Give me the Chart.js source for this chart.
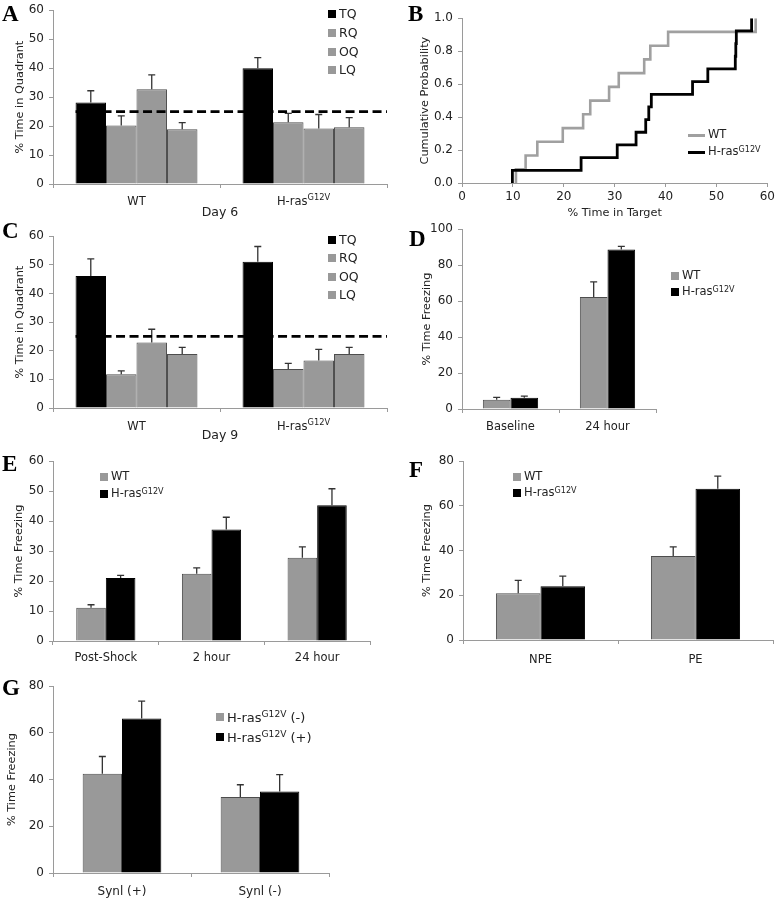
<!DOCTYPE html>
<html>
<head>
<meta charset="utf-8">
<script src="https://cdn.jsdelivr.net/npm/chart.js@4.4.1/dist/chart.umd.min.js"></script>
<style>
body{margin:0;background:#fff;width:778px;height:900px;position:relative;overflow:hidden;font-family:"DejaVu Sans",sans-serif;color:#222}
canvas{position:absolute}
.letter{position:absolute;font-family:"Liberation Serif",serif;font-weight:bold;font-size:23px;line-height:1;color:#000}
.note{position:absolute;white-space:nowrap;line-height:1;font-size:12.5px;transform:translate(-50%,-50%)}
.row{position:absolute;white-space:nowrap;display:flex;align-items:center;height:14px;line-height:1}
.sw{display:inline-block;margin-right:3px}
sup{font-size:70%;position:relative;top:-0.45em;vertical-align:baseline;line-height:0}
</style>
</head>
<body>
<canvas id="cA"></canvas>
<canvas id="cB"></canvas>
<canvas id="cC"></canvas>
<canvas id="cD"></canvas>
<canvas id="cE"></canvas>
<canvas id="cF"></canvas>
<canvas id="cG"></canvas>
<div id="overlay"></div>
<script>
// ---- data ----
var quadGroups = ['WT', 'H-ras^G12V'];
var chanceLevel = 25;

// A: day 6 probe trial
var day6TQ = [28.1, 40.0], day6TQerr = [4.1, 3.6];
var day6RQ = [20.2, 21.3], day6RQerr = [3.3, 3.1];
var day6OQ = [32.7, 19.2], day6OQerr = [5.0, 4.8];
var day6LQ = [18.9, 19.6], day6LQerr = [2.3, 3.3];

// C: day 9 probe trial
var day9TQ = [46.1, 51.1], day9TQerr = [6.0, 5.3];
var day9RQ = [11.8, 13.6], day9RQerr = [1.2, 2.0];
var day9OQ = [22.9, 16.6], day9OQerr = [4.6, 3.9];
var day9LQ = [18.9, 18.9], day9LQerr = [2.3, 2.3];

// B: cumulative distribution of time in target quadrant
var wtTimes   = [10.6, 10.6, 12.5, 14.8, 19.8, 23.8, 25.2, 28.9, 30.8, 35.8, 37.0, 40.5, 57.7];
var wtProb    = [0, 0.083, 0.167, 0.25, 0.333, 0.417, 0.5, 0.583, 0.667, 0.75, 0.833, 0.917, 1.0];
var hrasTimes = [9.9, 9.9, 23.4, 30.5, 34.2, 36.1, 36.7, 37.2, 45.3, 48.3, 53.7, 53.8, 53.9, 56.9];
var hrasProb  = [0, 0.077, 0.154, 0.231, 0.308, 0.385, 0.462, 0.538, 0.615, 0.692, 0.769, 0.846, 0.923, 1.0];

// D: contextual fear conditioning
var condLabels = ['Baseline', '24 hour'];
var condWT = [5.2, 62.3], condWTerr = [1.3, 8.4];
var condHras = [6.3, 88.7], condHraserr = [0.9, 1.8];

// E: time course
var timeLabels = ['Post-Shock', '2 hour', '24 hour'];
var timeWT = [11.1, 22.4, 27.8], timeWTerr = [1.0, 2.0, 3.6];
var timeHras = [21.0, 37.2, 45.3], timeHraserr = [0.9, 4.1, 5.5];

// F: pre-exposure
var preLabels = ['NPE', 'PE'];
var preWT = [20.9, 37.6], preWTerr = [5.8, 4.1];
var preHras = [24.0, 67.7], preHraserr = [4.6, 5.6];

// G: synapsin I
var synLabels = ['Synl (+)', 'Synl (-)'];
var synMinus = [42.5, 32.5], synMinuserr = [7.4, 5.3];
var synPlus = [66.2, 34.9], synPluserr = [7.4, 7.2];

var FONT = '"DejaVu Sans", sans-serif';
var INK = '#222';
var AXIS = '#9a9a9a';
var GREY = '#999999';
var EDGE = '#4d4d4d';
var BLACK = '#000000';

// draws error whiskers (upper only) on top of each bar
var errorBars = {
  id: 'errorBars',
  afterDatasetsDraw: function(chart) {
    var ctx = chart.ctx, y = chart.scales.y;
    ctx.save();
    ctx.strokeStyle = '#333';
    ctx.lineWidth = 1.3;
    chart.data.datasets.forEach(function(ds, i) {
      if (!ds.err) return;
      chart.getDatasetMeta(i).data.forEach(function(bar, j) {
        var top = y.getPixelForValue(ds.data[j] + ds.err[j]);
        ctx.beginPath();
        ctx.moveTo(bar.x, bar.y);
        ctx.lineTo(bar.x, top);
        ctx.moveTo(bar.x - 3.5, top);
        ctx.lineTo(bar.x + 3.5, top);
        ctx.stroke();
      });
    });
    ctx.restore();
  }
};

// dashed chance line
var chanceLine = {
  id: 'chanceLine',
  afterDatasetsDraw: function(chart, args, opts) {
    if (opts.value == null) return;
    var ctx = chart.ctx, area = chart.chartArea;
    var first = chart.getDatasetMeta(0).data[0];
    var py = chart.scales.y.getPixelForValue(opts.value);
    ctx.save();
    ctx.strokeStyle = '#000';
    ctx.lineWidth = 2.8;
    ctx.setLineDash([9, 4.5]);
    ctx.beginPath();
    ctx.moveTo(first.x - first.width / 2, py);
    ctx.lineTo(area.right, py);
    ctx.stroke();
    ctx.restore();
  }
};

// category labels with superscript support ("H-ras^G12V")
function drawRich(ctx, text, cx, cy, size) {
  var parts = text.split('^');
  ctx.font = size + 'px ' + FONT;
  var bw = ctx.measureText(parts[0]).width, sw = 0;
  if (parts[1]) {
    ctx.font = (size * 0.72) + 'px ' + FONT;
    sw = ctx.measureText(parts[1]).width;
  }
  var x = cx - (bw + sw) / 2;
  ctx.textAlign = 'left';
  ctx.textBaseline = 'middle';
  ctx.font = size + 'px ' + FONT;
  ctx.fillText(parts[0], x, cy);
  if (parts[1]) {
    ctx.font = (size * 0.72) + 'px ' + FONT;
    ctx.fillText(parts[1], x + bw, cy - size * 0.38);
  }
}
var richTicks = {
  id: 'richTicks',
  afterDraw: function(chart, args, opts) {
    var ctx = chart.ctx, sc = chart.scales.x;
    ctx.save();
    ctx.fillStyle = INK;
    chart.data.labels.forEach(function(lab, i) {
      drawRich(ctx, lab, sc.getPixelForValue(i), chart.chartArea.bottom + opts.dy, opts.size);
    });
    ctx.restore();
  }
};

function place(id, x0, xr, plot, xH) {
  var c = document.getElementById(id);
  var y0 = plot.t - 12;
  c.width = xr - x0;
  c.height = plot.b + xH - y0;
  c.style.left = x0 + 'px';
  c.style.top = y0 + 'px';
  return { el: c, padding: {left: 0, top: 12, right: xr - plot.r, bottom: 0}, yW: plot.l - x0 };
}

function yAxis(f, x0, cfg) {
  return {
    min: 0, max: cfg.yMax,
    ticks: {stepSize: cfg.yStep, padding: 5, color: INK, font: {family: FONT, size: 12}, callback: cfg.fmt},
    grid: {drawOnChartArea: false, color: AXIS, tickLength: 4},
    border: {color: AXIS},
    title: {display: true, text: cfg.yTitle, color: INK, font: {family: FONT, size: 11.3},
      padding: {top: cfg.titleX - x0 - 6.8, bottom: 0}},
    afterFit: function(s) { s.width = f.yW; }
  };
}

function barChart(id, x0, xr, plot, cfg) {
  var f = place(id, x0, xr, plot, 34);
  var plugins = [errorBars, richTicks];
  if (cfg.chance != null) plugins.push(chanceLine);
  return new Chart(f.el, {
    type: 'bar',
    data: {
      labels: cfg.labels,
      datasets: cfg.series.map(function(s) {
        return {
          label: s.label, data: s.data, err: s.err,
          backgroundColor: s.color,
          borderColor: s.color === BLACK ? BLACK : EDGE,
          borderWidth: 1,
          barPercentage: 1,
          categoryPercentage: cfg.catPct
        };
      })
    },
    options: {
      responsive: false, animation: false, devicePixelRatio: 1,
      layout: {padding: f.padding},
      plugins: {
        legend: {display: false}, tooltip: {enabled: false},
        richTicks: {dy: cfg.labelDy, size: cfg.labelSize || 11.5},
        chanceLine: {value: cfg.chance}
      },
      scales: {
        x: {
          grid: {offset: true, drawOnChartArea: false, color: AXIS, tickLength: 4},
          border: {color: AXIS},
          ticks: {display: false},
          afterFit: function(s) { s.height = 34; }
        },
        y: yAxis(f, x0, cfg)
      }
    },
    plugins: plugins
  });
}

// A
barChart('cA', 0, 392, {l: 53, t: 10, r: 387, b: 184}, {
  labels: quadGroups, catPct: 0.73, yMax: 60, yStep: 10, yTitle: '% Time in Quadrant', titleX: 20,
  labelDy: 18, chance: chanceLevel,
  series: [
    {label: 'TQ', data: day6TQ, err: day6TQerr, color: BLACK},
    {label: 'RQ', data: day6RQ, err: day6RQerr, color: GREY},
    {label: 'OQ', data: day6OQ, err: day6OQerr, color: GREY},
    {label: 'LQ', data: day6LQ, err: day6LQerr, color: GREY}
  ]
});

// C
barChart('cC', 0, 392, {l: 53, t: 236, r: 387, b: 408}, {
  labels: quadGroups, catPct: 0.73, yMax: 60, yStep: 10, yTitle: '% Time in Quadrant', titleX: 20,
  labelDy: 19, chance: chanceLevel,
  series: [
    {label: 'TQ', data: day9TQ, err: day9TQerr, color: BLACK},
    {label: 'RQ', data: day9RQ, err: day9RQerr, color: GREY},
    {label: 'OQ', data: day9OQ, err: day9OQerr, color: GREY},
    {label: 'LQ', data: day9LQ, err: day9LQerr, color: GREY}
  ]
});

// D
barChart('cD', 392, 778, {l: 462, t: 229, r: 656, b: 409}, {
  labels: condLabels, catPct: 0.57, yMax: 100, yStep: 20, yTitle: '% Time Freezing', titleX: 427,
  labelDy: 18,
  series: [
    {label: 'WT', data: condWT, err: condWTerr, color: GREY},
    {label: 'H-ras', data: condHras, err: condHraserr, color: BLACK}
  ]
});

// E
barChart('cE', 0, 392, {l: 53, t: 461, r: 370, b: 641}, {
  labels: timeLabels, catPct: 0.56, yMax: 60, yStep: 10, yTitle: '% Time Freezing', titleX: 19,
  labelDy: 17,
  series: [
    {label: 'WT', data: timeWT, err: timeWTerr, color: GREY},
    {label: 'H-ras', data: timeHras, err: timeHraserr, color: BLACK}
  ]
});

// F
barChart('cF', 392, 778, {l: 463, t: 461, r: 773, b: 640}, {
  labels: preLabels, catPct: 0.575, yMax: 80, yStep: 20, yTitle: '% Time Freezing', titleX: 427,
  labelDy: 20,
  series: [
    {label: 'WT', data: preWT, err: preWTerr, color: GREY},
    {label: 'H-ras', data: preHras, err: preHraserr, color: BLACK}
  ]
});

// G
barChart('cG', 0, 392, {l: 53, t: 686, r: 329, b: 873}, {
  labels: synLabels, catPct: 0.57, yMax: 80, yStep: 20, yTitle: '% Time Freezing', titleX: 12,
  labelDy: 19, labelSize: 12,
  series: [
    {label: 'H-ras (-)', data: synMinus, err: synMinuserr, color: GREY},
    {label: 'H-ras (+)', data: synPlus, err: synPluserr, color: BLACK}
  ]
});

// B: step curves
(function() {
  var plot = {l: 462, t: 18, r: 769, b: 183};
  var f = place('cB', 392, 778, plot, 38);
  new Chart(f.el, {
    type: 'line',
    data: {
      datasets: [
        {label: 'WT', data: wtTimes.map(function(x, i) { return {x: x, y: wtProb[i]}; }),
          borderColor: '#a0a0a0', borderWidth: 2.6, stepped: 'before', pointRadius: 0, fill: false, order: 1,
          borderCapStyle: 'butt', borderJoinStyle: 'miter'},
        {label: 'H-ras', data: hrasTimes.map(function(x, i) { return {x: x, y: hrasProb[i]}; }),
          borderColor: BLACK, borderWidth: 2.8, stepped: 'before', pointRadius: 0, fill: false, order: 0,
          borderCapStyle: 'butt', borderJoinStyle: 'miter'}
      ]
    },
    options: {
      responsive: false, animation: false, devicePixelRatio: 1,
      layout: {padding: f.padding},
      plugins: {legend: {display: false}, tooltip: {enabled: false}},
      scales: {
        x: {
          type: 'linear', min: 0, max: 60,
          ticks: {stepSize: 10, padding: 3, color: INK, font: {family: FONT, size: 12}},
          grid: {drawOnChartArea: false, color: AXIS, tickLength: 4},
          border: {color: AXIS},
          title: {display: true, text: '% Time in Target', color: INK, font: {family: FONT, size: 11.3}, padding: {top: 0, bottom: 1.2}},
          afterFit: function(s) { s.height = 38; }
        },
        y: yAxis(f, 392, {yMax: 1, yStep: 0.2, yTitle: 'Cumulative Probability', titleX: 425,
          fmt: function(v) { return v.toFixed(1); }})
      }
    }
  });
})();

// ---- HTML overlay: panel letters, day notes, legends ----
var ov = document.getElementById('overlay');
function add(html, cls, x, y, style) {
  var d = document.createElement('div');
  d.className = cls;
  d.innerHTML = html;
  d.style.left = x + 'px';
  d.style.top = y + 'px';
  if (style) d.style.cssText += style;
  ov.appendChild(d);
}
var hras = 'H-ras<sup>G12V</sup>';
[['A', 2, 2], ['B', 408, 2], ['C', 2, 219], ['D', 409, 227], ['E', 2, 452], ['F', 409, 458], ['G', 2, 676]]
  .forEach(function(l) { add(l[0], 'letter', l[1], l[2]); });
add('Day 6', 'note', 220, 212);
add('Day 9', 'note', 220, 435);

function legend(x, ys, items, size, box) {
  items.forEach(function(it, i) {
    var sw = it.line
      ? '<span class="sw" style="width:17px;height:3px;background:' + it.color + '"></span>'
      : '<span class="sw" style="width:' + box + 'px;height:' + box + 'px;background:' + it.color + '"></span>';
    add(sw + '<span>' + it.text + '</span>', 'row', x, ys[i] - 7, 'font-size:' + size + 'px');
  });
}
var quadItems = [{text: 'TQ', color: BLACK}, {text: 'RQ', color: GREY}, {text: 'OQ', color: GREY}, {text: 'LQ', color: GREY}];
legend(328, [14, 33, 52, 70], quadItems, 12.5, 8);
legend(328, [240, 258, 277, 295], quadItems, 12.5, 8);
legend(688, [135, 152], [{text: 'WT', color: '#a0a0a0', line: true}, {text: hras, color: BLACK, line: true}], 11.5);
var geneItems = [{text: 'WT', color: GREY}, {text: hras, color: BLACK}];
legend(671, [276, 292], geneItems, 11.5, 8);
legend(100, [477, 494], geneItems, 11.5, 8);
legend(513, [477, 493], geneItems, 11.5, 8);
legend(216, [717, 737], [{text: hras + ' (-)', color: GREY}, {text: hras + ' (+)', color: BLACK}], 13, 8);
</script>
</body>
</html>
